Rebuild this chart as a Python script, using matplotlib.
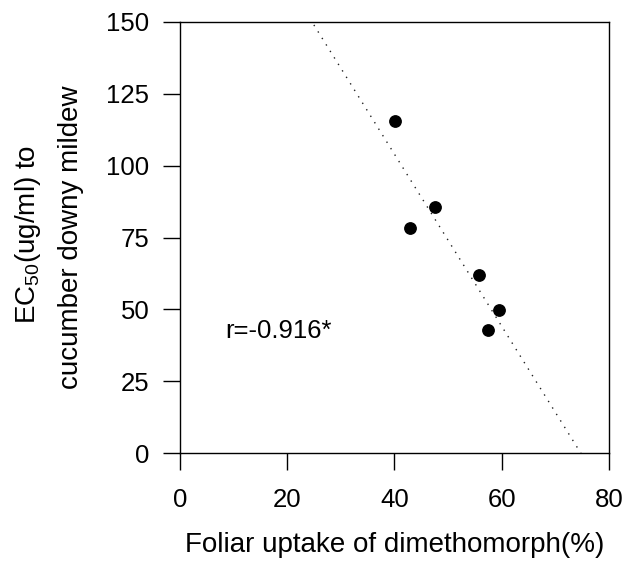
import matplotlib
matplotlib.use("Agg")
import matplotlib.pyplot as plt
import numpy as np

plt.rcParams['font.family'] = ['Liberation Sans', 'DejaVu Sans']
plt.rcParams['mathtext.default'] = 'regular'

# data
uptake = [40.1, 47.6, 42.8, 55.8, 59.5, 57.4]
ec50 = [115.6, 85.7, 78.4, 62.1, 49.9, 43.0]
x_ticks = [0, 20, 40, 60, 80]
y_ticks = [0, 25, 50, 75, 100, 125, 150]
r_label = "r=-0.916*"

fig = plt.figure(figsize=(6.37, 5.66), dpi=100)
ax = fig.add_axes([0.2826, 0.199, 0.6734, 0.7627])

# regression line (dotted)
slope, intercept = np.polyfit(uptake, ec50, 1)
xs = np.array([0, 80])
ax.plot(xs, slope * xs + intercept, color="#222222", linestyle=(0, (1, 4.5)), lw=1.0)

ax.plot(uptake, ec50, "o", color="black", markersize=8.2)

ax.text(8.4, 40.0, r_label, fontsize=18.5, ha="left", va="baseline")

ax.set_xlim(0, 80)
ax.set_ylim(0, 150)
ax.set_xticks(x_ticks)
ax.set_yticks(y_ticks)
ax.tick_params(direction="out", length=12, width=1, labelsize=18.5,
               top=False, right=False)
ax.tick_params(axis="x", pad=13)
ax.tick_params(axis="y", pad=10)
for s in ax.spines.values():
    s.set_linewidth(1.0)

ax.set_xlabel("Foliar uptake of dimethomorph(%)", fontsize=20, labelpad=14)

# two-line y label, placed line by line
fig.text(35 / 637, 1 - 234 / 566, "EC$_{50}$(ug/ml) to", fontsize=20,
         rotation=90, rotation_mode="anchor", ha="center", va="baseline")
fig.text(78 / 637, 1 - 237.5 / 566, "cucumber downy mildew", fontsize=20,
         rotation=90, rotation_mode="anchor", ha="center", va="baseline")

fig.savefig("out.png", dpi=100)
